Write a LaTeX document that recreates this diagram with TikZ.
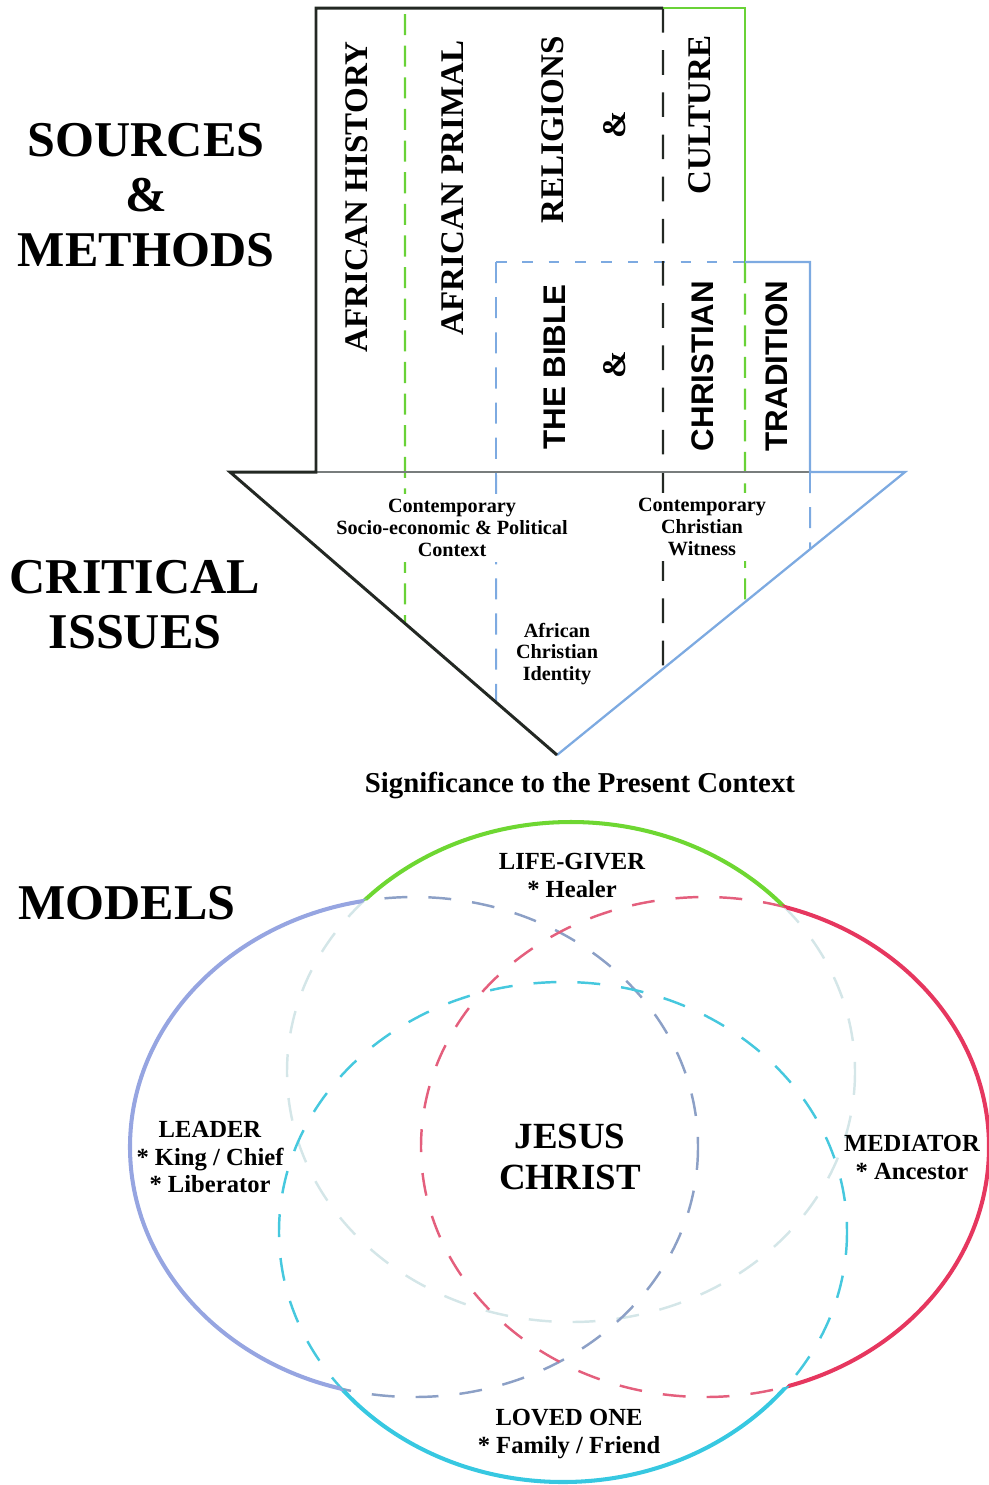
\documentclass[tikz,border=0pt]{standalone}
\usepackage{fontspec}
\setmainfont{Liberation Serif}
\setsansfont{Liberation Sans}
\usepackage{tikz}
\usetikzlibrary{positioning,calc}

\definecolor{inkdark}{RGB}{35,40,35}
\definecolor{leafgreen}{RGB}{105,210,55}
\definecolor{skyblue}{RGB}{125,170,225}
\definecolor{rimgray}{RGB}{120,125,125}
\definecolor{ringgreen}{RGB}{110,215,50}
\definecolor{ringred}{RGB}{230,55,95}
\definecolor{ringcyan}{RGB}{55,200,225}
\definecolor{ringblue}{RGB}{150,165,225}
\definecolor{fadegreen}{RGB}{212,230,232}
\definecolor{fadered}{RGB}{228,95,125}
\definecolor{fadecyan}{RGB}{70,200,222}
\definecolor{fadeblue}{RGB}{140,160,198}

\begin{document}
\begin{tikzpicture}[x=0.2mm, y=-0.2mm,
    heading/.style={font=\fontsize{28.5}{31.3}\selectfont\bfseries, align=center},
    colhead/.style={rotate=90, font=\fontsize{18.8}{20}\selectfont\bfseries},
    colsans/.style={rotate=90, font=\fontsize{17.8}{20}\selectfont\sffamily\bfseries},
    issue/.style={font=\fontsize{11.5}{12.3}\selectfont\bfseries, align=center, fill=white},
    model/.style={font=\fontsize{14}{15.9}\selectfont\bfseries, align=center},
    frame/.style={draw=inkdark, line width=1.7pt},
    greendash/.style={draw=leafgreen, line width=1.2pt, dash pattern=on 12pt off 6pt},
    bluedash/.style={draw=skyblue, line width=1.1pt, dash pattern=on 12pt off 8pt},
    blackdash/.style={draw=inkdark, line width=1.3pt, dash pattern=on 14pt off 10pt},
    solidring/.style={line width=2.3pt},
    dashring/.style={line width=1.4pt, dash pattern=on 13pt off 12pt}
]
\useasboundingbox (0,0) rectangle (989,1485);

% SOURCES: frame and columns
\coordinate (tl) at (316,8);
\coordinate (tm) at (663,8);
\coordinate (tr) at (745,8);
\coordinate (bibtop) at (496,262);
\coordinate (gbend) at (745,262);
\coordinate (btr) at (810,262);
\coordinate (bbl) at (316,472);
\coordinate (bbr) at (810,472);
\coordinate (tri-l) at (230,472);
\coordinate (tri-r) at (905,472);
\coordinate (apex) at (557,755);
\coordinate (g1top) at (405,14);
\coordinate (g1low) at (405,800);
\coordinate (b1low) at (496,800);
\coordinate (k1low) at (663,800);
\coordinate (g2low) at (745,800);
\coordinate (b2low) at (810,800);

\draw[greendash] (g1top) -- (intersection of g1top--g1low and tri-l--apex);
\draw[bluedash] (bibtop) -- (intersection of bibtop--b1low and tri-l--apex);
\draw[bluedash, line width=0.9pt, dash pattern=on 6pt off 9pt] (bibtop) -- (gbend);
\draw[blackdash] (tm) -- (intersection of tm--k1low and tri-r--apex);
\draw[greendash] (gbend) -- (intersection of gbend--g2low and tri-r--apex);
\draw[bluedash] (bbr) -- (intersection of bbr--b2low and tri-r--apex);

% CRITICAL ISSUES
\node[issue] (iss-socio) at (452,528) {Contemporary\\Socio-economic \& Political\\Context};
\node[issue] (iss-witness) at (702,527) {Contemporary\\Christian\\Witness};
\node[issue] (iss-identity) at (557,654) {African\\Christian\\Identity};
\node[font=\fontsize{16.4}{18}\selectfont\bfseries] (lbl-significance) at (580,786) {Significance to the Present Context};

\draw[rimgray, line width=0.8pt] (bbl) -- (bbr);
\draw[leafgreen, line width=1.5pt] (tm) -- (tr) -- (gbend);
\draw[skyblue, line width=1.3pt] (gbend) -- (btr) -- (bbr) -- (tri-r) -- (apex);
\draw[frame] (tm) -- (tl) -- (bbl) -- (tri-l) -- (apex);

\node[heading] (lbl-sources) at (146,195) {SOURCES\\\&\\METHODS};
\node[heading] (lbl-issues) at (135,605) {CRITICAL\\ISSUES};
\node[heading] (lbl-models) at (127,903) {MODELS};

\node[colhead] (col-history) at (357,197) {AFRICAN HISTORY};
\node[colhead] (col-primal) at (453,188) {AFRICAN PRIMAL};
\node[colhead] (col-religions) at (553,130) {RELIGIONS};
\node[colhead] (col-amp1) at (615,125) {\&};
\node[colhead] (col-culture) at (700,115) {CULTURE};
\node[colsans] (col-bible) at (555,367) {THE BIBLE};
\node[colhead] (col-amp2) at (615,365) {\&};
\node[colsans] (col-christian) at (703,366) {CHRISTIAN};
\node[colsans] (col-tradition) at (777,366) {TRADITION};

% MODELS: four rings
\coordinate (cT) at (571,1072);
\coordinate (cB) at (563,1232);
\coordinate (cL) at (414,1147);
\coordinate (cR) at (705,1147);
\draw[dashring, fadegreen] (cT) ellipse [x radius=284, y radius=250];
\draw[dashring, fadeblue] (cL) ellipse [x radius=284, y radius=250];
\draw[dashring, fadered] (cR) ellipse [x radius=284, y radius=250];
\draw[dashring, fadecyan] (cB) ellipse [x radius=284, y radius=250];
\foreach \ring/\oa/\ob/\oc/\col in {cT/cL/cR/cB/ringgreen, cR/cT/cL/cB/ringred, cB/cT/cL/cR/ringcyan, cL/cT/cR/cB/ringblue} {
  \begin{scope}[even odd rule]
    \clip (-50,-50) rectangle (1040,1540) (\oa) ellipse [x radius=284, y radius=250];
    \clip (-50,-50) rectangle (1040,1540) (\ob) ellipse [x radius=284, y radius=250];
    \clip (-50,-50) rectangle (1040,1540) (\oc) ellipse [x radius=284, y radius=250];
    \draw[solidring, \col] (\ring) ellipse [x radius=284, y radius=250];
  \end{scope}
}

\node[model] (mdl-life) at (572,875) {LIFE-GIVER\\* Healer};
\node[model] (mdl-leader) at (210,1157) {LEADER\\* King / Chief\\* Liberator};
\node[model] (mdl-mediator) at (912,1157) {MEDIATOR\\* Ancestor};
\node[model] (mdl-loved) at (569,1434) {LOVED ONE\\* Family / Friend};
\node[font=\fontsize{21}{23.3}\selectfont\bfseries, align=center] (mdl-jesus) at (570,1157) {JESUS\\CHRIST};
\end{tikzpicture}
\end{document}
